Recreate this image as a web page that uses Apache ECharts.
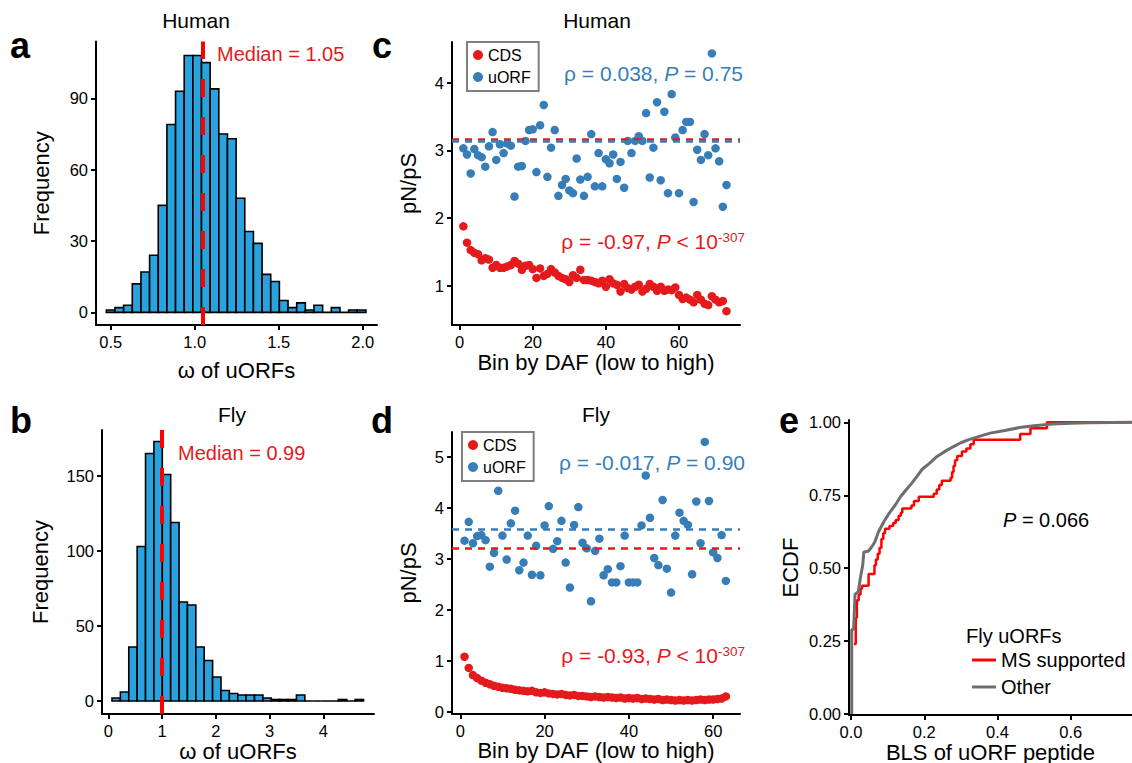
<!DOCTYPE html>
<html><head><meta charset="utf-8">
<script src="https://cdn.jsdelivr.net/npm/echarts/dist/echarts.min.js"></script>
<style>html,body{margin:0;padding:0;background:#fff}#chart{width:1132px;height:763px}</style>
</head><body><div id="chart"></div>
<script>
// ---------------- data ----------------
// a: Human omega histogram (30 bins)
const humanOmegaCounts = [1, 2, 3, 12, 17, 24, 45, 79, 93, 108, 108, 105, 94, 75, 73, 48, 34, 29, 16, 13, 5, 2, 4, 1, 3, 0, 2, 0, 1, 1];
const humanOmegaBinStart = 0.474;
const humanOmegaBinWidth = 0.0515;
const humanOmegaMedian = 1.05;
// b: Fly omega histogram (30 bins)
const flyOmegaCounts = [2, 6, 36, 103, 165, 173, 151, 119, 66, 64, 36, 27, 16, 7, 5, 4, 4, 4, 2, 1, 1, 1, 4, 0, 0, 0, 0, 1, 0, 1];
const flyOmegaBinStart = 0.069;
const flyOmegaBinWidth = 0.156;
const flyOmegaMedian = 0.99;
// c: Human pN/pS by DAF bin (bins 1..73)
const humanCds = [1.88, 1.64, 1.53, 1.49, 1.47, 1.38, 1.41, 1.39, 1.27, 1.31, 1.27, 1.27, 1.29, 1.31, 1.37, 1.33, 1.24, 1.30, 1.31, 1.25, 1.12, 1.26, 1.15, 1.18, 1.25, 1.20, 1.15, 1.12, 1.10, 1.06, 1.16, 1.12, 1.24, 1.09, 1.09, 1.08, 1.06, 1.04, 1.08, 0.99, 1.10, 1.04, 1.02, 0.92, 1.03, 0.97, 0.95, 0.99, 1.02, 0.92, 0.96, 1.03, 0.99, 0.93, 0.99, 0.93, 0.95, 0.94, 0.98, 0.87, 0.81, 0.83, 0.80, 0.76, 0.87, 0.80, 0.74, 0.72, 0.85, 0.80, 0.76, 0.78, 0.63];
const humanUorf = [3.03, 2.94, 2.66, 3.02, 2.93, 2.90, 2.76, 3.06, 3.27, 2.86, 3.09, 2.96, 3.10, 3.07, 2.32, 2.76, 2.77, 3.14, 3.30, 3.31, 2.68, 3.37, 3.67, 2.61, 3.04, 3.30, 2.33, 2.49, 2.58, 2.41, 2.37, 2.88, 2.57, 2.33, 2.61, 3.24, 2.47, 2.96, 2.47, 2.87, 2.81, 2.94, 2.58, 2.83, 2.45, 3.14, 2.96, 3.14, 3.21, 3.14, 3.55, 2.60, 3.04, 3.71, 2.56, 3.57, 2.37, 3.83, 3.19, 2.37, 3.30, 3.42, 3.42, 2.24, 3.01, 2.86, 3.24, 2.93, 4.43, 3.03, 2.84, 2.17, 2.49];
const humanCdsMean = 3.167;
const humanUorfMean = 3.13;
// d: Fly pN/pS by DAF bin (bins 1..63)
const flyCds = [1.08, 0.86, 0.72, 0.66, 0.61, 0.57, 0.54, 0.51, 0.49, 0.47, 0.46, 0.45, 0.43, 0.42, 0.41, 0.40, 0.41, 0.38, 0.37, 0.38, 0.36, 0.35, 0.34, 0.35, 0.33, 0.32, 0.33, 0.31, 0.31, 0.30, 0.29, 0.30, 0.29, 0.28, 0.29, 0.28, 0.27, 0.28, 0.26, 0.27, 0.26, 0.27, 0.25, 0.26, 0.25, 0.24, 0.25, 0.23, 0.24, 0.23, 0.22, 0.23, 0.22, 0.23, 0.22, 0.23, 0.24, 0.23, 0.24, 0.24, 0.25, 0.26, 0.30];
const flyUorf = [3.36, 3.73, 3.31, 3.45, 3.47, 3.37, 2.85, 3.12, 4.34, 3.46, 2.99, 3.70, 3.95, 2.78, 2.93, 3.46, 2.69, 3.26, 2.68, 3.66, 4.04, 3.20, 3.35, 3.75, 2.93, 2.44, 3.67, 4.02, 3.32, 3.21, 2.17, 3.16, 3.40, 2.68, 2.80, 2.54, 2.54, 2.86, 3.46, 2.54, 2.54, 2.54, 3.66, 4.64, 3.81, 3.02, 2.88, 4.16, 2.81, 2.34, 3.46, 3.91, 3.75, 3.67, 2.70, 4.13, 3.31, 5.30, 4.14, 3.13, 3.02, 3.47, 2.57];
const flyCdsMean = 3.21;
const flyUorfMean = 3.58;
// e: ECDF of BLS
const msSupportedX = [0.008, 0.013, 0.016, 0.021, 0.026, 0.030, 0.048, 0.064, 0.068, 0.073, 0.078, 0.083, 0.088, 0.093, 0.105, 0.115, 0.122, 0.130, 0.136, 0.140, 0.165, 0.172, 0.185, 0.226, 0.234, 0.241, 0.248, 0.272, 0.276, 0.280, 0.284, 0.290, 0.303, 0.315, 0.326, 0.335, 0.462, 0.490, 0.535, 0.767];
const msSupportedY = [0.24, 0.33, 0.39, 0.41, 0.43, 0.44, 0.48, 0.51, 0.53, 0.55, 0.57, 0.60, 0.62, 0.635, 0.645, 0.655, 0.665, 0.68, 0.69, 0.705, 0.715, 0.73, 0.745, 0.755, 0.77, 0.785, 0.80, 0.81, 0.83, 0.85, 0.87, 0.885, 0.90, 0.91, 0.925, 0.94, 0.96, 0.98, 1.0, 1.0];
const otherX = [0.002, 0.002, 0.007, 0.011, 0.020, 0.026, 0.032, 0.035, 0.047, 0.055, 0.065, 0.075, 0.090, 0.105, 0.120, 0.135, 0.150, 0.165, 0.180, 0.195, 0.215, 0.235, 0.260, 0.280, 0.300, 0.320, 0.350, 0.380, 0.420, 0.460, 0.500, 0.550, 0.600, 0.650, 0.767];
const otherY = [0.0, 0.29, 0.29, 0.41, 0.42, 0.47, 0.51, 0.556, 0.558, 0.57, 0.59, 0.625, 0.66, 0.69, 0.715, 0.745, 0.768, 0.79, 0.815, 0.84, 0.86, 0.883, 0.903, 0.917, 0.93, 0.94, 0.952, 0.963, 0.972, 0.982, 0.988, 0.994, 0.997, 0.999, 1.0];
// tick values
const ticksAx = [0.5, 1.0, 1.5, 2.0], ticksAy = [0, 30, 60, 90];
const ticksBx = [0, 1, 2, 3, 4], ticksBy = [0, 50, 100, 150];
const ticksCx = [0, 20, 40, 60], ticksCy = [1, 2, 3, 4];
const ticksDx = [0, 20, 40, 60], ticksDy = [0, 1, 2, 3, 4, 5];
const ticksEx = [0, 0.2, 0.4, 0.6], ticksEy = [0, 0.25, 0.5, 0.75, 1.0];

// ---------------- styling ----------------
const FONT = "'Liberation Sans', Arial, Helvetica, sans-serif";
const RED = '#E41A1C', BLUE = '#377EB8', HIST = '#2AA2DD';

function xAxisDef(gi, min, max, ticks, fmt, name, gap) {
  return {
    gridIndex: gi, type: 'value', min: min, max: max, name: name, nameLocation: 'middle', nameGap: gap,
    nameTextStyle: {fontFamily: FONT, fontSize: 22, color: '#000'},
    axisLine: {show: true, onZero: false, lineStyle: {color: '#000', width: 2}},
    axisTick: {show: true, length: 5, customValues: ticks, lineStyle: {color: '#000', width: 2}},
    axisLabel: {show: true, customValues: ticks, formatter: fmt, margin: 8, fontFamily: FONT, fontSize: 16.5, color: '#000'},
    splitLine: {show: false}
  };
}
function yAxisDef(gi, min, max, ticks, fmt, name, gap) {
  const a = xAxisDef(gi, min, max, ticks, fmt, name, gap);
  a.nameRotate = 90;
  a.axisLabel.margin = 8;
  return a;
}
function histData(counts, start, width) {
  return counts.map((c, i) => [start + i * width, start + (i + 1) * width, c]);
}
function renderBar(params, api) {
  const p0 = api.coord([api.value(0), api.value(2)]);
  const p1 = api.coord([api.value(1), 0]);
  return {type: 'rect', shape: {x: p0[0], y: p0[1], width: p1[0] - p0[0], height: p1[1] - p0[1]},
    style: {fill: HIST, stroke: '#000', lineWidth: 1.6}};
}
function vline(val) {
  return {silent: true, symbol: ['none', 'none'], label: {show: false}, emphasis: {disabled: true},
    lineStyle: {color: '#FF0000', width: 4, type: [18, 20]}, data: [{xAxis: val}]};
}
function hline(val, color) {
  return {silent: true, symbol: ['none', 'none'], label: {show: false}, emphasis: {disabled: true},
    lineStyle: {color: color, width: 2.5, type: [7, 6]}, data: [{yAxis: val}]};
}
const idx = arr => arr.map((v, i) => [i + 1, v]);
const pairs = (xs, ys) => xs.map((x, i) => [x, ys[i]]);

const f1 = v => v.toFixed(1), f2 = v => v.toFixed(2), f0 = v => String(v);

function txt(x, y, text, opts) {
  return {type: 'text', silent: true, style: Object.assign({x: x, y: y, text: text, fontFamily: FONT, fontSize: 20, fill: '#000', align: 'left', verticalAlign: 'middle'}, opts || {})};
}
function stat(color, a, b, sup) {
  const rich = {
    n: {fontFamily: FONT, fontSize: 21, fill: color},
    i: {fontFamily: FONT, fontSize: 21, fill: color, fontStyle: 'italic'},
    s: {fontFamily: FONT, fontSize: 13.5, fill: color, verticalAlign: 'top', lineHeight: 14}
  };
  let t = '{n|' + a + '}{i|P}{n|' + b + '}';
  if (sup) t += '{s|' + sup + '}';
  return {text: t, rich: rich, fill: color};
}

const chart = echarts.init(document.getElementById('chart'), null, {renderer: 'svg'});
const option = {
  animation: false,
  backgroundColor: '#fff',
  grid: [
    {left: 96, top: 41.5, width: 281, height: 283.5, outerBoundsMode: 'none'},
    {left: 102, top: 430, width: 272, height: 284, outerBoundsMode: 'none'},
    {left: 452, top: 42, width: 288, height: 283, outerBoundsMode: 'none'},
    {left: 452, top: 432, width: 288, height: 282, outerBoundsMode: 'none'},
    {left: 849, top: 420, width: 283, height: 295, outerBoundsMode: 'none'}
  ],
  xAxis: [
    xAxisDef(0, 0.4125, 2.085, ticksAx, f1, 'ω of uORFs', 34),
    xAxisDef(1, -0.117, 4.944, ticksBx, f0, 'ω of uORFs', 26),
    xAxisDef(2, -2.11, 76.7, ticksCx, f0, 'Bin by DAF (low to high)', 26),
    xAxisDef(3, -1.97, 66.36, ticksDx, f0, 'Bin by DAF (low to high)', 24),
    xAxisDef(4, -0.0055, 0.7673, ticksEx, f1, 'BLS of uORF peptide', 26)
  ],
  yAxis: [
    yAxisDef(0, -5.3, 113.9, ticksAy, f0, 'Frequency', 44),
    yAxisDef(1, -8.67, 180.7, ticksBy, f0, 'Frequency', 51),
    yAxisDef(2, 0.426, 4.598, ticksCy, f0, 'pN/pS', 33),
    yAxisDef(3, -0.045, 5.495, ticksDy, f0, 'pN/pS', 33),
    yAxisDef(4, -0.003, 1.008, ticksEy, f2, 'ECDF', 48)
  ],
  legend: [
    {data: ['CDS', 'uORF'], orient: 'vertical', left: 467, top: 42, padding: [5, 8, 6, 6], itemGap: 6, itemWidth: 10, itemHeight: 10,
     icon: 'circle', borderColor: '#7f7f7f', borderWidth: 2, textStyle: {fontFamily: FONT, fontSize: 16, color: '#000'}, selectedMode: false},
    {data: ['CDS', 'uORF'], orient: 'vertical', left: 462, top: 432, padding: [5, 8, 6, 6], itemGap: 6, itemWidth: 10, itemHeight: 10,
     icon: 'circle', borderColor: '#7f7f7f', borderWidth: 2, textStyle: {fontFamily: FONT, fontSize: 16, color: '#000'}, selectedMode: false},
    {data: ['MS supported', 'Other'], orient: 'vertical', left: 972, top: 650, padding: 0, itemGap: 7, itemWidth: 24, itemHeight: 3,
     icon: 'rect', textStyle: {fontFamily: FONT, fontSize: 20, color: '#000'}, selectedMode: false}
  ],
  series: [
    {type: 'custom', name: 'humanHist', xAxisIndex: 0, yAxisIndex: 0, renderItem: renderBar, encode: {x: [0, 1], y: 2},
     data: histData(humanOmegaCounts, humanOmegaBinStart, humanOmegaBinWidth), markLine: vline(humanOmegaMedian), silent: true},
    {type: 'custom', name: 'flyHist', xAxisIndex: 1, yAxisIndex: 1, renderItem: renderBar, encode: {x: [0, 1], y: 2},
     data: histData(flyOmegaCounts, flyOmegaBinStart, flyOmegaBinWidth), markLine: vline(flyOmegaMedian), silent: true},
    {type: 'scatter', name: 'CDS', xAxisIndex: 2, yAxisIndex: 2, symbolSize: 8.5, itemStyle: {color: RED, opacity: 1},
     data: idx(humanCds), markLine: hline(humanCdsMean, RED), silent: true},
    {type: 'scatter', name: 'uORF', xAxisIndex: 2, yAxisIndex: 2, symbolSize: 8.5, itemStyle: {color: BLUE, opacity: 1},
     data: idx(humanUorf), markLine: hline(humanUorfMean, BLUE), silent: true},
    {type: 'scatter', name: 'CDS', xAxisIndex: 3, yAxisIndex: 3, symbolSize: 8.5, itemStyle: {color: RED, opacity: 1},
     data: idx(flyCds), markLine: hline(flyCdsMean, RED), silent: true},
    {type: 'scatter', name: 'uORF', xAxisIndex: 3, yAxisIndex: 3, symbolSize: 8.5, itemStyle: {color: BLUE, opacity: 1},
     data: idx(flyUorf), markLine: hline(flyUorfMean, BLUE), silent: true},
    {type: 'line', name: 'MS supported', xAxisIndex: 4, yAxisIndex: 4, step: 'end', symbol: 'none', showSymbol: false,
     color: '#FF0000', lineStyle: {color: '#FF0000', width: 2.5}, data: pairs(msSupportedX, msSupportedY), silent: true},
    {type: 'line', name: 'Other', xAxisIndex: 4, yAxisIndex: 4, symbol: 'none', showSymbol: false,
     color: '#6E6E6E', lineStyle: {color: '#6E6E6E', width: 3}, data: pairs(otherX, otherY), silent: true}
  ],
  graphic: [
    txt(10, 45, 'a', {fontSize: 36, fontWeight: 'bold'}),
    txt(10, 420, 'b', {fontSize: 36, fontWeight: 'bold'}),
    txt(372, 45, 'c', {fontSize: 36, fontWeight: 'bold'}),
    txt(371, 420, 'd', {fontSize: 36, fontWeight: 'bold'}),
    txt(779, 420, 'e', {fontSize: 36, fontWeight: 'bold'}),
    txt(196, 20, 'Human', {fontSize: 21, align: 'center'}),
    txt(232, 414, 'Fly', {fontSize: 21, align: 'center'}),
    txt(597, 20, 'Human', {fontSize: 21, align: 'center'}),
    txt(596, 414, 'Fly', {fontSize: 21, align: 'center'}),
    txt(217, 54, 'Median = 1.05', {fill: RED}),
    txt(178, 453, 'Median = 0.99', {fill: RED}),
    txt(743, 73, '', Object.assign({align: 'right'}, stat(BLUE, 'ρ = 0.038, ', ' = 0.75'))),
    txt(745, 241, '', Object.assign({align: 'right'}, stat(RED, 'ρ = -0.97, ', ' < 10', '-307'))),
    txt(745, 462, '', Object.assign({align: 'right'}, stat(BLUE, 'ρ = -0.017, ', ' = 0.90'))),
    txt(745, 655, '', Object.assign({align: 'right'}, stat(RED, 'ρ = -0.93, ', ' < 10', '-307'))),
    txt(1003, 520, '', {text: '{i|P}{n| = 0.066}', rich: {i: {fontFamily: FONT, fontSize: 20, fontStyle: 'italic', fill: '#000'}, n: {fontFamily: FONT, fontSize: 20, fill: '#000'}}}),
    txt(966, 636, 'Fly uORFs', {fontSize: 20})
  ]
};
chart.setOption(option);
</script>
</body></html>
